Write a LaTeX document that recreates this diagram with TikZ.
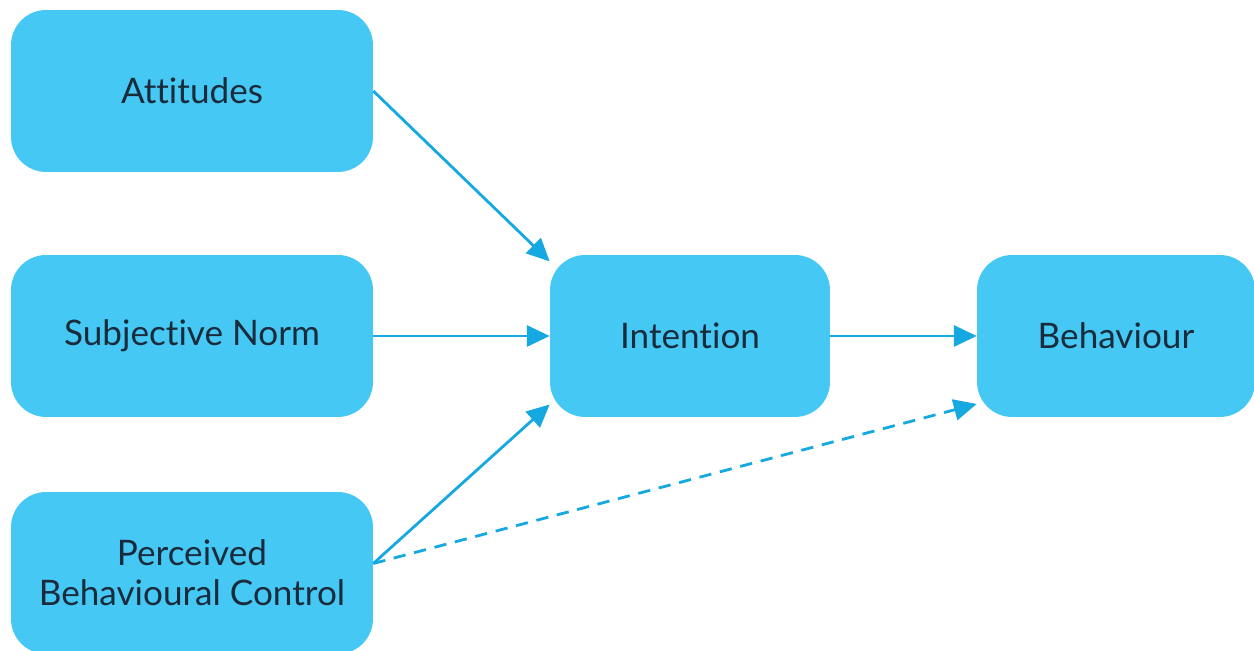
\documentclass[tikz,border=0pt]{standalone}
\usepackage{fontspec}
\setmainfont{Lato}[Ligatures=NoCommon]
\usetikzlibrary{arrows.meta, positioning}
\definecolor{boxblue}{HTML}{46C8F5}
\definecolor{linkblue}{HTML}{16A9E1}
\definecolor{textnavy}{HTML}{1A2B3B}
\tikzset{factor/.style={rounded corners=20pt, fill=boxblue, draw=none, text=textnavy, minimum height=3.24cm, align=center, font=\fontsize{20}{23}\selectfont}}
\tikzset{link/.style={draw=linkblue, line width=1.6pt, -{Triangle[length=13pt, width=12pt]}}}

\begin{document}
\begin{tikzpicture}[x=0.02cm, y=0.02cm]
    \useasboundingbox (0, 0) rectangle (1254, 651);

    % the three determinants
    \node[factor, minimum width=7.24cm] (att) at (192, 560) {Attitudes};
    \node[factor, minimum width=7.24cm] (sn) at (192, 315) {Subjective Norm};
    \node[factor, minimum width=7.24cm] (pbc) at (192, 78) {Perceived\\Behavioural Control};

    \node[factor, minimum width=5.6cm] (int) at (690, 315) {Intention};
    \node[factor, minimum width=5.56cm] (beh) at (1116, 315) {Behaviour};

    \draw
    (att.east) edge[link] (int.152)
    (sn.east) edge[link] (int.west)
    (pbc.3) edge[link] (int.206)
    (int.east) edge[link] (beh.west)
    (pbc.3) edge[link, dash pattern=on 7pt off 5pt] (beh.206);
\end{tikzpicture}
\end{document}
